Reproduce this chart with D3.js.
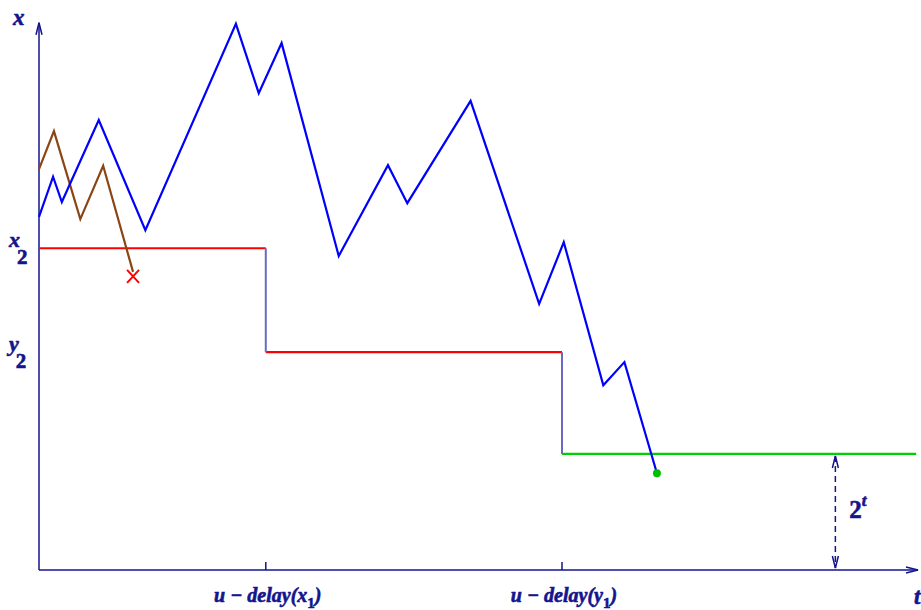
<!DOCTYPE html>
<html>
<head>
<meta charset="utf-8">
<script src="https://cdn.jsdelivr.net/npm/d3@7"></script>
<style>
  body { margin: 0; background: #fff; }
  .lbl { font-family: "Liberation Serif", "DejaVu Serif", serif; font-weight: bold; fill: #14148c; stroke: #14148c; stroke-width: 0.6; }
</style>
</head>
<body>
<svg></svg>
<script>
const width = 921, height = 610;

// path of the running process (time, value)
const bluePath = [
    [0, 64.2], [1.6, 71.5], [2.6, 66.9], [6.8, 81.8], [12.1, 61.8],
    [22.4, 99.3], [25.0, 86.7], [27.6, 95.8], [34.1, 57.1], [39.7, 73.6],
    [41.9, 66.7], [49.1, 85.3], [56.9, 48.4], [59.7, 59.6], [64.2, 33.6],
    [66.6, 37.8], [70.3, 17.6]
];
// path that gets killed
const brownPath = [[0, 72.9], [1.7, 79.8], [4.7, 63.8], [7.3, 73.5], [10.7, 54.2]];

// barrier levels
const stepTimes = [0, 25.8, 59.5, 99.8];
const stepLevels = [58.5, 39.6, 21.1];
const stepColors = ["#ff0000", "#ff0000", "#00d000"];
const levelLabels = [["x", "2"], ["y", "2"]];
const tickTimes = [25.8, 59.5];
const tickLabels = [["u \u2212 delay(x", "1", ")"], ["u \u2212 delay(y", "1", ")"]];
const gapTime = 90.6;

const svg = d3.select("svg").attr("width", width).attr("height", height);

const x = d3.scaleLinear().domain([0, 100]).range([39, 918]);
const y = d3.scaleLinear().domain([0, 100]).range([570, 20]);
const axisColor = "#14148c";

// axes
const axes = svg.append("g").attr("stroke", axisColor).attr("stroke-width", 1.5).attr("fill", "none");
axes.append("line").attr("x1", x(0)).attr("x2", x(0)).attr("y1", y(0)).attr("y2", y(99.5));
axes.append("line").attr("x1", x(0)).attr("x2", x(100)).attr("y1", y(0)).attr("y2", y(0));
axes.append("path").attr("d", `M${x(0) - 3},${y(99.5) + 12} L${x(0)},${y(99.5)} L${x(0) + 3},${y(99.5) + 12}`);
axes.append("path").attr("d", `M${x(100) - 12},${y(0) - 3} L${x(100)},${y(0)} L${x(100) - 12},${y(0) + 3}`);

axes.selectAll(".tick")
    .data(tickTimes)
    .enter().append("line")
    .attr("x1", d => x(d)).attr("x2", d => x(d))
    .attr("y1", y(0)).attr("y2", y(0) - 8);

// step barrier
const steps = svg.append("g").attr("fill", "none");
stepLevels.forEach((lev, i) => {
    steps.append("line")
        .attr("x1", x(stepTimes[i])).attr("x2", x(stepTimes[i + 1]))
        .attr("y1", y(lev)).attr("y2", y(lev))
        .attr("stroke", stepColors[i]).attr("stroke-width", 2.2);
    if (i > 0) {
        steps.append("line")
            .attr("x1", x(stepTimes[i])).attr("x2", x(stepTimes[i]))
            .attr("y1", y(stepLevels[i - 1])).attr("y2", y(lev))
            .attr("stroke", "#6a6ac0").attr("stroke-width", 2);
    }
});

const line = d3.line().x(d => x(d[0])).y(d => y(d[1]));

svg.append("path").datum(brownPath)
    .attr("fill", "none").attr("stroke", "#8b4513").attr("stroke-width", 2.2)
    .attr("d", line);

svg.append("path").datum(bluePath)
    .attr("fill", "none").attr("stroke", "#0000ff").attr("stroke-width", 2.2)
    .attr("d", line);

// kill mark and end point
const killPt = brownPath[brownPath.length - 1];
svg.append("path")
    .attr("d", `M${x(killPt[0]) - 6},${y(killPt[1]) - 2} l12,13 M${x(killPt[0]) + 6},${y(killPt[1]) - 2} l-12,13`)
    .attr("stroke", "#ff0000").attr("stroke-width", 2).attr("fill", "none");

const endPt = bluePath[bluePath.length - 1];
svg.append("circle").attr("cx", x(endPt[0])).attr("cy", y(endPt[1])).attr("r", 4).attr("fill", "#00c000");

// gap arrow
const gx = x(gapTime);
const gap = svg.append("g").attr("stroke", axisColor).attr("stroke-width", 1.5).attr("fill", "none");
gap.append("line").attr("x1", gx).attr("x2", gx).attr("y1", y(stepLevels[2]) + 2).attr("y2", y(0) - 2)
    .attr("stroke-dasharray", "6,4");
gap.append("path").attr("d", `M${gx - 3},${y(stepLevels[2]) + 14} L${gx},${y(stepLevels[2]) + 2} L${gx + 3},${y(stepLevels[2]) + 14}`);
gap.append("path").attr("d", `M${gx - 3},${y(0) - 14} L${gx},${y(0) - 2} L${gx + 3},${y(0) - 14}`);

const lab = svg.append("g").attr("class", "lbl");
const g2 = lab.append("text").attr("x", gx + 14).attr("y", 518).attr("font-size", 25);
g2.append("tspan").text("2");
g2.append("tspan").attr("dy", -12).attr("font-size", 17).attr("font-style", "italic").text("t");

// axis names
lab.append("text").attr("x", 13).attr("y", 25).attr("font-size", 23).attr("font-style", "italic").text("x");
lab.append("text").attr("x", 914).attr("y", 604).attr("font-size", 23).attr("font-style", "italic").text("t");

// level labels
levelLabels.forEach((l, i) => {
    const t = lab.append("text").attr("x", 9).attr("y", y(stepLevels[i]) - 1).attr("font-size", 22);
    t.append("tspan").attr("font-style", "italic").text(l[0]);
    t.append("tspan").attr("dx", -3).attr("dy", 17).attr("font-size", 21).text(l[1]);
});

// tick labels
tickTimes.forEach((d, i) => {
    const t = lab.append("text").attr("x", x(d) + 2).attr("y", 602).attr("font-size", 20)
        .attr("text-anchor", "middle").attr("font-style", "italic");
    t.append("tspan").text(tickLabels[i][0]);
    t.append("tspan").attr("dy", 6).attr("font-size", 15).attr("font-style", "normal").text(tickLabels[i][1]);
    t.append("tspan").attr("dy", -6).text(tickLabels[i][2]);
});
</script>
</body>
</html>
